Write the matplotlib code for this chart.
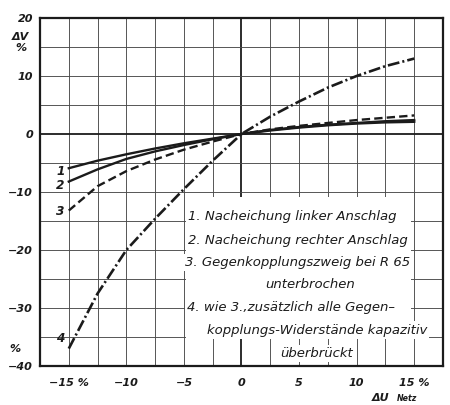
import matplotlib
matplotlib.use("Agg")
import numpy as np
import matplotlib.pyplot as plt
from matplotlib import font_manager
from matplotlib.patches import Rectangle

# Mains voltage deviation (%) and resulting output deviation (%) per variant
delta_u_netz = [-15, -12.5, -10, -7.5, -5, -2.5, 0, 2.5, 5, 7.5, 10, 12.5, 15]
dv_curve1 = [-5.9, -4.6, -3.5, -2.5, -1.6, -0.8, 0, 0.6, 1.1, 1.5, 1.8, 2.0, 2.1]
dv_curve2 = [-8.2, -6.1, -4.3, -3.0, -1.9, -0.9, 0, 0.7, 1.2, 1.6, 1.9, 2.2, 2.4]
dv_curve3 = [-13.2, -9.0, -6.4, -4.4, -2.7, -1.3, 0, 0.8, 1.4, 1.9, 2.4, 2.8, 3.2]
dv_curve4 = [-37.0, -27.5, -20.0, -14.6, -9.5, -4.6, 0, 3.0, 5.6, 8.0, 10.0, 11.7, 13.0]

curve_numbers = ["1", "2", "3", "4"]

x_ticks = [-15, -10, -5, 0, 5, 10, 15]
x_tick_labels = ["\u221215 %", "\u221210", "\u22125", "0", "5", "10", "15 %"]
y_ticks = [20, 10, 0, -10, -20, -30, -40]
y_tick_labels = ["20", "10", "0", "\u221210", "\u221220", "\u221230", "\u221240"]

legend_lines = [
    "1. Nacheichung linker Anschlag",
    "2. Nacheichung rechter Anschlag",
    "3. Gegenkopplungszweig bei R 65",
    "unterbrochen",
    "4. wie 3.,zusätzlich alle Gegen\u2013",
    "kopplungs-Widerstände kapazitiv",
    "überbrückt",
]

# pick a narrow sans face for the technical lettering
available = {f.name for f in font_manager.fontManager.ttflist}
narrow = None
for cand in ["Liberation Sans Narrow", "DejaVu Sans Condensed"]:
    if cand in available:
        narrow = cand
        break
if narrow == "Liberation Sans Narrow":
    scale = 1.0
elif narrow == "DejaVu Sans Condensed":
    scale = 0.84
else:
    narrow = "DejaVu Sans"
    scale = 0.76
FAMILY = [narrow, "DejaVu Sans"]
plt.rcParams["font.family"] = FAMILY
plt.rcParams["font.style"] = "italic"
plt.rcParams["lines.scale_dashes"] = False

INK = "#1b1b1b"
GRID = "#4a4a4a"

fig = plt.figure(figsize=(4.5, 4.05), dpi=100)
fig.patch.set_facecolor("white")
ax = fig.add_axes([0.0889, 0.0963, 0.8955, 0.8593])
ax.set_xlim(-17.5, 17.5)
ax.set_ylim(-40, 20)

# grid: 2.5 % steps horizontally, 5 % steps vertically, heavier zero lines
for gx in np.arange(-15, 17.5, 2.5):
    ax.axvline(gx, color=INK if gx == 0 else GRID,
               lw=1.3 if gx == 0 else 0.65, zorder=1)
for gy in np.arange(-35, 20, 5):
    ax.axhline(gy, color=INK if gy == 0 else GRID,
               lw=1.3 if gy == 0 else 0.65, zorder=1)

for s in ax.spines.values():
    s.set_linewidth(1.6)
    s.set_color(INK)
    s.set_zorder(5)

ax.set_xticks(x_ticks)
ax.set_xticklabels(x_tick_labels)
ax.set_yticks(y_ticks)
ax.set_yticklabels(y_tick_labels)
ax.tick_params(length=0, labelsize=10.5 * scale, labelcolor=INK)
ax.tick_params(axis="x", pad=9)
ax.tick_params(axis="y", pad=5)
for lab in ax.get_xticklabels() + ax.get_yticklabels():
    lab.set_fontstyle("italic")
    lab.set_fontweight("bold")

# curves
ax.plot(delta_u_netz, dv_curve1, color=INK, lw=1.7, zorder=4)
ax.plot(delta_u_netz, dv_curve2, color=INK, lw=1.7, zorder=4)
ax.plot(delta_u_netz, dv_curve3, color=INK, lw=1.7, zorder=4,
        linestyle=(0, (6, 3)))
ax.plot(delta_u_netz, dv_curve4, color=INK, lw=1.9, zorder=4,
        linestyle=(0, (8.5, 2.2, 1.5, 2.2)))

# curve numbers at the left ends
for num, yv in zip(curve_numbers, [-6.4, -8.8, -13.4, -35.2]):
    ax.text(-15.35, yv, num, ha="right", va="center", fontsize=11.5 * scale,
            fontweight="bold", color=INK, zorder=6)

# white panel behind the explanation text
ax.add_patch(Rectangle((-4.85, -35.4), 19.55, 24.5, facecolor="white",
                       edgecolor="none", zorder=2))

legend_pos = [
    (-4.65, -14.3, "left"),
    (-4.65, -18.3, "left"),
    (-4.9, -22.1, "left"),
    (5.95, -26.0, "center"),
    (-4.75, -30.0, "left"),
    (-3.0, -33.8, "left"),
    (6.55, -37.8, "center"),
]
for txt, (tx, ty, ha) in zip(legend_lines, legend_pos):
    ax.text(tx, ty, txt, ha=ha, va="center", fontsize=12.5 * scale, color=INK,
            zorder=3, bbox=dict(facecolor="white", edgecolor="none", pad=1.5))

# axis captions
fig.text(0.0444, 0.9086, "\u0394V", ha="center", va="center",
         fontsize=10.5 * scale, fontweight="bold", color=INK)
fig.text(0.0467, 0.8815, "%", ha="center", va="center",
         fontsize=10.5 * scale, fontweight="bold", color=INK)
fig.text(0.0333, 0.1383, "%", ha="center", va="center",
         fontsize=10.5 * scale, fontweight="bold", color=INK)
fig.text(0.8267, 0.004, "\u0394U", ha="left", va="bottom",
         fontsize=10.5 * scale, fontweight="bold", color=INK)
fig.text(0.882, 0.004, "Netz", ha="left", va="bottom",
         fontsize=7.5 * scale, fontweight="bold", color=INK)

fig.savefig("out.png", dpi=100, facecolor="white")
